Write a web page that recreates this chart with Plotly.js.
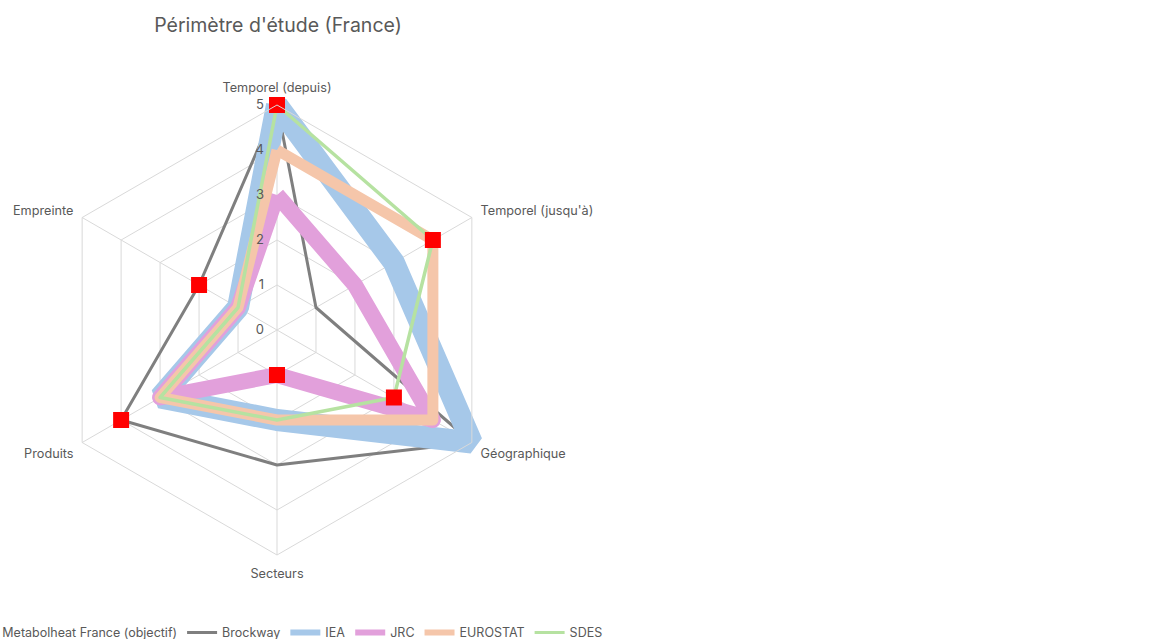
<!DOCTYPE html>
<html>
<head>
<meta charset="utf-8">
<script src="https://cdn.plot.ly/plotly-3.0.1.min.js"></script>
<style>html,body{margin:0;padding:0;background:#fff;}#chart{width:1159px;height:639px;}</style>
</head>
<body>
<div id="chart"></div>
<script>
const categories = ["Temporel (depuis)", "Temporel (jusqu'à)", "Géographique", "Secteurs", "Produits", "Empreinte"];
const metabolheat = [5, 4, 3, 1, 4, 2];
const brockway = [5, 1, 5, 3, 4, 2];
const iea = [5, 3, 5, 2, 3, 1];
const jrc = [3, 2, 4, 1, 3, 1];
const eurostat = [4, 4, 4, 2, 3, 1];
const sdes = [5, 4, 3, 2, 3, 1];
const radialTicks = [0, 1, 2, 3, 4, 5];

function closed(a) { return a.concat([a[0]]); }
const theta = closed(categories);

function lineTrace(name, vals, color, width, rank) {
  return {
    type: 'scatterpolar', mode: 'lines', name: name,
    r: closed(vals), theta: theta, cliponaxis: false,
    line: {color: color, width: width, shape: 'linear'},
    legendrank: rank, hoverinfo: 'name+r+theta'
  };
}

const traces = [
  lineTrace('Brockway', brockway, '#7f7f7f', 3, 2),
  lineTrace('IEA', iea, '#a6c8e9', 22, 3),
  lineTrace('JRC', jrc, '#e2a0db', 16, 4),
  lineTrace('EUROSTAT', eurostat, '#f5c6aa', 11, 5),
  lineTrace('SDES', sdes, '#b6e2a1', 3.5, 6),
  {
    type: 'scatterpolar', mode: 'markers', name: 'Metabolheat France (objectif)',
    r: closed(metabolheat), theta: theta, cliponaxis: false,
    marker: {symbol: 'square', size: 16, color: '#ff0000'},
    legendrank: 1
  }
];
const legendLineWidths = {'Brockway': 3, 'IEA': 6, 'JRC': 6, 'EUROSTAT': 6, 'SDES': 3};
const lineJoins = {'Brockway': 'round', 'IEA': 'bevel', 'JRC': 'round', 'EUROSTAT': 'round', 'SDES': 'round'};

const W = 1159, H = 639;
const cx = 277, cy = 330, R = 225;

const layout = {
  width: W, height: H,
  margin: {l: 0, r: 0, t: 0, b: 0, autoexpand: false},
  paper_bgcolor: '#ffffff',
  font: {family: 'Inter, "Noto Sans", sans-serif', color: '#595959', size: 12},
  title: {
    text: "Périmètre d'étude (France)",
    font: {size: 19.5, color: '#595959', family: 'Inter, "Noto Sans", sans-serif'},
    x: (cx + 1) / W, xanchor: 'center', xref: 'paper',
    y: 1 - 25 / H, yanchor: 'middle', yref: 'container'
  },
  polar: {
    domain: {x: [(cx - R) / W, (cx + R) / W], y: [1 - (cy + R) / H, 1 - (cy - R) / H]},
    bgcolor: '#ffffff',
    gridshape: 'linear',
    angularaxis: {
      rotation: 90, direction: 'clockwise',
      showline: true, linecolor: '#d9d9d9', linewidth: 1,
      showgrid: true, gridcolor: '#d9d9d9', gridwidth: 1,
      ticks: 'outside', ticklen: 7, tickcolor: 'rgba(0,0,0,0)',
      tickfont: {size: 12.7, color: '#595959'}
    },
    radialaxis: {
      range: [0, 5], tickvals: radialTicks, ticktext: radialTicks.map(String),
      angle: 90, side: 'counterclockwise',
      showline: false, showgrid: true, gridcolor: '#d9d9d9', gridwidth: 1,
      ticks: 'outside', ticklen: 8, tickcolor: 'rgba(0,0,0,0)',
      tickfont: {size: 13, color: '#595959'}, tickangle: 90
    }
  },
  showlegend: true,
  legend: {
    orientation: 'h', x: -0.0325, xanchor: 'left', y: -0.014, yanchor: 'bottom',
    font: {size: 12.5, color: '#595959'}, itemwidth: 30, tracegroupgap: 0
  }
};

Plotly.newPlot('chart', traces, layout, {displayModeBar: false, staticPlot: true}).then(function (gd) {
  // let the thick Excel-style lines overflow the outer hexagon, as in the reference
  gd.querySelectorAll('.polarlayer .frontplot, .polarlayer .frontplot [clip-path], .polarlayer .scatterlayer, .polarlayer .scatterlayer [clip-path]').forEach(function (el) {
    el.removeAttribute('clip-path');
    el.style.clipPath = 'none';
  });
  gd.querySelectorAll('.polarlayer .scatterlayer .trace').forEach(function (t) {
    const d = t.__data__;
    const name = d && d[0] && d[0].trace ? d[0].trace.name : null;
    t.querySelectorAll('path.js-line').forEach(function (p) {
      p.style.strokeLinejoin = (name && lineJoins[name]) || 'round';
    });
  });
  gd.querySelectorAll('.legend .traces').forEach(function (it) {
    const d = it.__data__;
    const name = d && d[0] && d[0].trace ? d[0].trace.name : null;
    if (name && legendLineWidths[name] !== undefined) {
      it.querySelectorAll('path.js-line').forEach(function (p) {
        p.style.strokeWidth = legendLineWidths[name] + 'px';
      });
    }
  });
});
</script>
</body>
</html>
